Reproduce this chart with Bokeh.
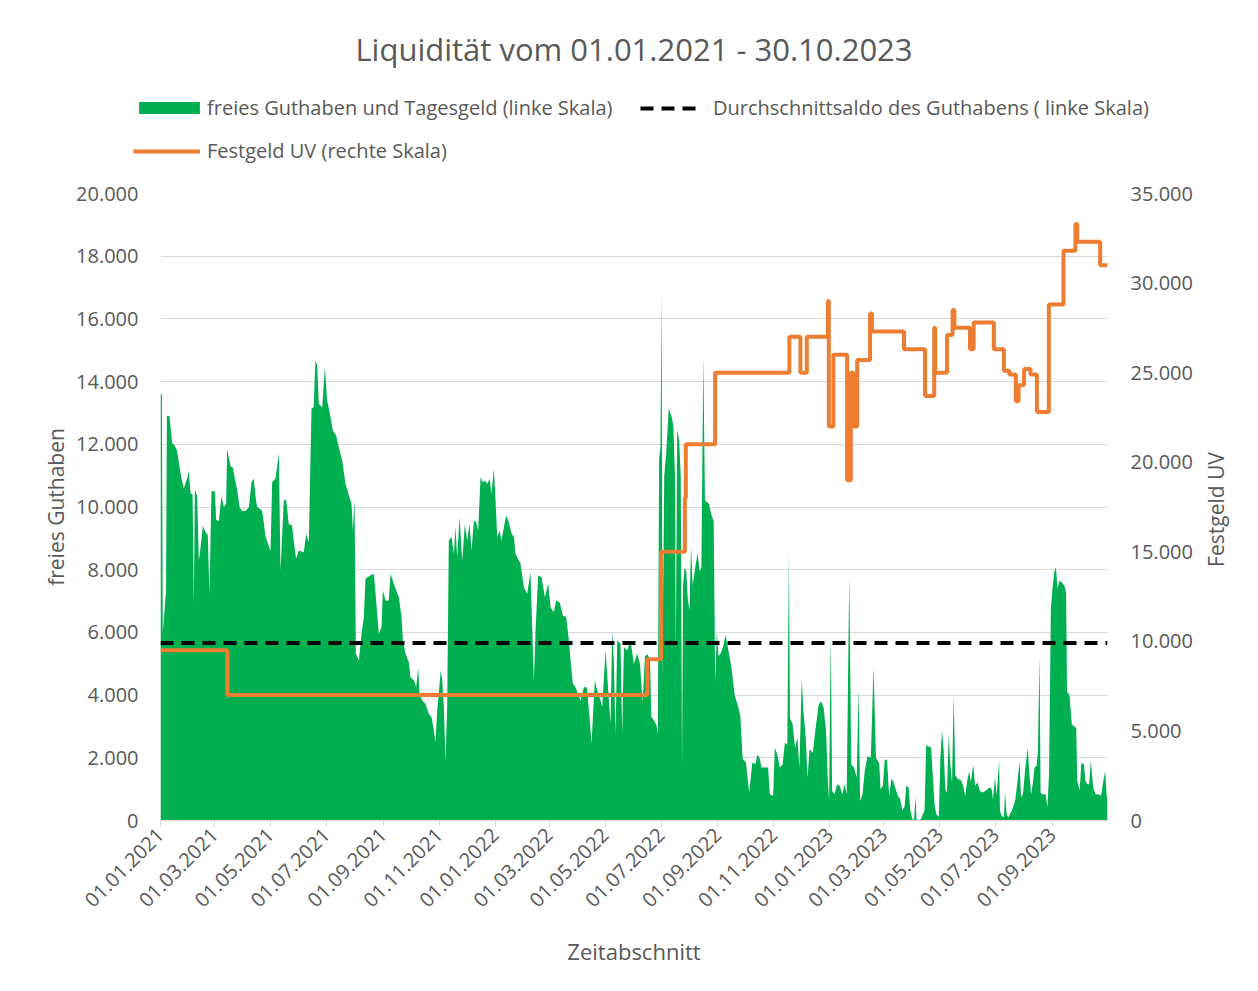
from math import pi
import pandas as pd
from bokeh.plotting import figure
from bokeh.layouts import column, row
from bokeh.models import (ColumnDataSource, Range1d, LinearAxis, FixedTicker,
                          DatetimeTickFormatter, Legend, LegendItem, Label)
from bokeh.embed import file_html
from bokeh.resources import INLINE

# ---------------- data ----------------
START = pd.Timestamp("2021-01-01")
ANZAHL_TAGE = 1033  # 01.01.2021 .. 30.10.2023

titel = "Liquidität vom 01.01.2021 - 30.10.2023"
name_guthaben = "freies Guthaben und Tagesgeld (linke Skala)"
name_schnitt = "Durchschnittsaldo des Guthabens ( linke Skala)"
name_festgeld = "Festgeld UV (rechte Skala)"
achse_links = "freies Guthaben"
achse_rechts = "Festgeld UV"
achse_x = "Zeitabschnitt"

# (Tag seit 01.01.2021, freies Guthaben in EUR)
guthaben_2021 = [
    (0, 13600), (1.5, 13600), (2.5, 6000), (6, 7300), (7, 12900), (9.8, 12900), (12.7, 12050),
    (15.6, 11950), (18, 11800), (20.7, 11300), (22.9, 10900), (25.5, 10600), (29, 10900),
    (30.9, 11150), (32.7, 10450), (35, 10400), (36.4, 6950), (37.5, 10550), (40, 10350),
    (41.8, 8300), (43.5, 8650), (46.2, 9400), (49, 9200), (51.6, 9100), (53.4, 7250),
    (55.6, 10500), (59.3, 10500), (60.7, 9600), (63.6, 9550), (66.5, 10350), (69, 10000),
    (71.6, 10100), (72.7, 11850), (76.4, 11300), (79, 11250), (81, 10900), (83.6, 10550),
    (86.2, 10000), (89, 9870), (92.7, 9870), (96.4, 10000), (99.3, 10800), (101.8, 10900),
    (103.6, 10350), (105.4, 10000), (108, 9950), (110.9, 9870), (112.7, 9500), (114.5, 9070),
    (117.5, 8800), (120, 8600), (121.8, 10800), (125.4, 10900), (129.1, 11700), (130.9, 7970),
    (134.5, 10200), (137, 10250), (139.9, 9460), (143.5, 9410), (145.3, 8930), (147.9, 8350),
    (150.9, 8610), (156.3, 8560), (158.9, 9140), (161.8, 8880), (164.7, 13130), (167, 13180),
    (169, 14670), (170.9, 14510), (172.7, 13290), (176.4, 13180), (179.3, 14460), (181.8, 13400),
    (184.4, 13030), (188, 12440), (191.6, 12280), (195.3, 11800), (198.2, 11480), (201.8, 10740),
    (205.5, 10370), (208.4, 10100), (209.8, 9250), (211.7, 10220), (213.1, 5320), (216.4, 5100),
    (219.3, 5950), (221.8, 6480), (223.6, 7710), (229.1, 7820), (232.7, 7870), (234.6, 7230),
    (238.2, 5950), (241.1, 6170), (242.5, 7340), (245.5, 7020), (249, 7020), (250.9, 7870),
    (254.5, 7550), (256.4, 7390), (260, 7130), (262.9, 6490), (264.4, 5750), (267.3, 5320),
    (270.9, 5050), (272.7, 4570), (276.4, 4470), (278.9, 4250), (281.1, 4890), (282.5, 4040),
    (285.5, 3830), (289.1, 3720), (292.7, 3400), (295.6, 3300), (298.2, 2870), (300, 2500),
    (301.8, 3500), (303.6, 4040), (305.5, 4780), (307.3, 4470), (309.1, 3610), (310.9, 1910),
    (312.7, 3610), (314.5, 8930), (317.5, 9040), (320, 8500), (321.8, 9360), (323.6, 8400),
    (326.2, 9680), (329.1, 8290), (332, 9460), (334.5, 8930), (337.1, 9460), (339.3, 8610),
    (341.8, 9570), (344.4, 9510), (346.5, 9250), (349.1, 10950), (351.6, 10790), (354.5, 10840),
    (356.4, 10730), (358.9, 10900), (361.1, 10420), (363.6, 11220),
]
guthaben_2022 = [
    (365.5, 10200), (367.3, 9040), (369.8, 9250), (372, 8930), (374.5, 9360), (377.1, 9730),
    (380, 9510), (383, 9150), (385.5, 9040), (387.3, 8500), (392.7, 8190), (396.4, 7440),
    (400, 7230), (403.6, 7920), (407.3, 4460), (409.1, 6060), (412, 7820), (415.6, 7760),
    (419.3, 7120), (422.9, 7550), (425.5, 6800), (429.1, 6640), (431.6, 7020), (435.3, 6960),
    (438.9, 6540), (442.5, 6490), (445.5, 5740), (447.3, 5100), (449.8, 4360), (452.7, 4250),
    (458.2, 3830), (461.8, 4250), (465, 4250), (468, 3300), (470.2, 2450), (472, 3510),
    (473.8, 4460), (476.4, 4150), (480, 3830), (481.8, 3620), (485.5, 5420), (488.4, 4150),
    (490.9, 3080), (492.7, 6060), (494.5, 5100), (496.4, 2760), (498.2, 5740), (501.8, 5640),
    (503.6, 2760), (505.5, 5530), (509.1, 5420), (512.7, 5740), (516.4, 5000), (520, 5320),
    (523, 5000), (526, 3770), (528.4, 5240), (531.2, 5300), (534, 5130), (535.4, 3320),
    (538.3, 3200), (541, 3040), (542.5, 2760), (543.9, 11570), (545.3, 11900), (546.7, 16900),
    (547.4, 4340), (549.5, 11000), (551.6, 11700), (554.4, 13150), (557.6, 12870), (559.4, 12590),
    (561.1, 11120), (562.2, 5360), (563.6, 12470), (565.7, 12140), (567.5, 11000), (568.9, 1740),
    (570, 7500), (571.7, 8070), (573.5, 7950), (575.2, 7050), (577, 6710), (578.7, 8750),
    (580.5, 7500), (583.3, 8070), (585.8, 8520), (588.2, 7950), (590, 8070), (592.1, 14790),
    (593.9, 10210), (598.1, 10100), (600.9, 9760), (603.4, 9540), (605.1, 4450), (606.9, 6030),
    (608.7, 5240), (611.5, 5360), (614, 5580), (616.4, 5920), (618.5, 5580), (622.7, 4900),
    (626.3, 4000), (629.8, 3660), (632.6, 3320), (635, 1970), (638.6, 1850), (642.1, 890),
    (645.6, 1850), (649.1, 1800), (651, 2100), (653.6, 2000), (655.4, 1690), (662.8, 1690),
    (664.6, 840), (668.3, 790), (670.1, 2320), (672.7, 2110), (675.6, 1690), (678.6, 1790),
    (681.1, 2480), (683.7, 2420), (685.5, 8500), (686.6, 3270), (689.6, 3060), (692.2, 2320),
    (694.7, 2640), (696.9, 1690), (699.5, 4540), (701.3, 3480), (703.9, 2640), (705.8, 1370),
    (708, 2270), (711.6, 2160), (714.2, 2850), (717.9, 3690), (720.5, 3800), (723.4, 3590),
    (726, 2850), (727.8, 1370), (729.3, 630),
]
guthaben_2023 = [
    (731.1, 5910), (732.6, 950), (735.2, 840), (738.1, 1160), (741, 1100), (743.6, 840),
    (746.2, 1160), (748.5, 840), (751.3, 7790), (753.5, 1790), (756.5, 1690), (759.4, 1370),
    (761.6, 4220), (763.1, 630), (765.7, 840), (768.2, 1580), (771.2, 2050), (774.8, 2000),
    (777.8, 4900), (780.4, 2000), (784, 1830), (785.4, 1000), (788, 1110), (790, 1940),
    (792.5, 1940), (794.8, 780), (797.3, 1330), (799.8, 1220), (802, 1000), (804.5, 780),
    (807, 670), (809.2, 330), (811.7, 440), (813.5, 1110), (816.1, 1060), (817.9, 330),
    (820, 60), (821.9, 0), (823.7, 780), (824.7, 0), (828, 0), (829.8, 60), (833.4, 330),
    (835.2, 2390), (840.6, 2330), (842.4, 1440), (844.2, 560), (846, 220), (849, 110),
    (850.7, 2000), (852.5, 2890), (854.3, 2220), (856.1, 1000), (857.9, 890), (859.8, 2780),
    (861.2, 1890), (863.4, 1220), (865.2, 4000), (867, 1440), (869.5, 1330), (873.1, 1280),
    (875.6, 1110), (877.8, 780), (880.3, 1330), (882.1, 1560), (883.9, 1220), (886.5, 1780),
    (888.6, 1110), (891.2, 1220), (893.7, 940), (896.6, 890), (899.5, 940), (902, 1000),
    (904.5, 1060), (906.7, 1000), (908.1, 670), (910.3, 1390), (912, 790), (914.8, 1900),
    (915.7, 310), (917.5, 150), (920, 100), (921.2, 890), (923, 200), (924.9, 100),
    (928.6, 310), (932.3, 630), (934.9, 1260), (937.1, 1900), (938.6, 740), (940.8, 840),
    (943.4, 1690), (946, 2320), (947.8, 1470), (949.7, 840), (951.9, 1260), (953.4, 1690),
    (955.6, 1740), (957.1, 2210), (958.9, 5280), (960, 890), (961.9, 840), (965.5, 840),
    (967.5, 420), (969.3, 1580), (971.2, 6750), (973, 7390), (974.9, 7920), (976.7, 8070),
    (978.6, 7390), (980.4, 7650), (983, 7600), (986, 7490), (987.8, 7280), (988.9, 4110),
    (991.5, 4000), (994.1, 3060), (997, 3000), (998.9, 2950), (1000, 1260), (1002.6, 950),
    (1004.5, 1840), (1007.4, 1790), (1008.9, 1260), (1011.1, 1160), (1013, 1160), (1014.8, 1900),
    (1017.4, 1050), (1020, 840), (1023, 840), (1025.9, 790), (1028.5, 1260), (1030.4, 1580),
    (1032.2, 740), (1033, 740),
]

durchschnittsaldo = 5660

# Festgeld UV (rechte Skala): Tag der Aenderung und neuer Stand
festgeld_tage = [0, 73, 531, 546, 572, 573, 605, 686, 698, 705, 728, 729, 734, 749, 753,
                 756, 760, 774, 776, 811, 834, 844, 845, 858, 864, 866, 883, 887, 909, 920,
                 926, 933, 936, 942, 949, 956, 969, 985, 998, 1000, 1025, 1033]
festgeld_werte = [9500, 7000, 9000, 15000, 18000, 21000, 25000, 27000, 25000, 27000, 29000,
                  22000, 26000, 19000, 25000, 22000, 25700, 28300, 27300, 26300, 23700, 27500,
                  25000, 27100, 28500, 27500, 26300, 27800, 26300, 25100, 24900, 23400, 24300,
                  25200, 24900, 22800, 28800, 31800, 33300, 32300, 31000, 31000]

x_tick_labels = ["01.01.2021", "01.03.2021", "01.05.2021", "01.07.2021", "01.09.2021",
                 "01.11.2021", "01.01.2022", "01.03.2022", "01.05.2022", "01.07.2022",
                 "01.09.2022", "01.11.2022", "01.01.2023", "01.03.2023", "01.05.2023",
                 "01.07.2023", "01.09.2023"]
links_ticks = [0, 2000, 4000, 6000, 8000, 10000, 12000, 14000, 16000, 18000, 20000]
links_labels = ["0", "2.000", "4.000", "6.000", "8.000", "10.000", "12.000", "14.000",
                "16.000", "18.000", "20.000"]
rechts_ticks = [0, 5000, 10000, 15000, 20000, 25000, 30000, 35000]
rechts_labels = ["0", "5.000", "10.000", "15.000", "20.000", "25.000", "30.000", "35.000"]

# ---------------- styling ----------------
FONT = "Open Sans"
GRAU = "#595959"
GRUEN = "#00B050"
ORANGE = "#ED7D31"
W = 1242
H_KOPF = 175
H_PLOT = 800
W_STREIFEN = 42


def to_dt(tage):
    return START + pd.to_timedelta(tage, unit="D")


def leer_figur(w, h):
    f = figure(width=w, height=h, output_backend="svg", toolbar_location=None,
               x_range=Range1d(0, w), y_range=Range1d(0, h),
               x_axis_location=None, y_axis_location=None,
               min_border_left=0, min_border_right=0, min_border_top=0, min_border_bottom=0)
    f.frame_align = False
    f.title.text = ""
    f.outline_line_color = None
    f.grid.visible = False
    f.background_fill_color = "white"
    f.border_fill_color = "white"
    return f


guthaben = guthaben_2021 + guthaben_2022 + guthaben_2023
g_tage = [t for t, _ in guthaben]
g_werte = [w for _, w in guthaben]
ENDE = START + pd.Timedelta(days=ANZAHL_TAGE)

# ---------------- main chart ----------------
p = figure(width=W - W_STREIFEN, height=H_PLOT, output_backend="svg", toolbar_location=None,
           x_axis_type="datetime",
           x_range=Range1d(START, ENDE), y_range=Range1d(0, 20000),
           min_border_left=160, min_border_right=1200 - 1107, min_border_top=18,
           min_border_bottom=155)
p.frame_align = False
p.title.text = ""
p.outline_line_color = None
p.background_fill_color = "white"
p.border_fill_color = "white"

p.extra_y_ranges = {"rechts": Range1d(0, 35000)}

p.xgrid.visible = False
p.ygrid.ticker = FixedTicker(ticks=links_ticks)
p.ygrid.grid_line_color = "#D9D9D9"
p.ygrid.grid_line_width = 1

epoch = pd.Timestamp("1970-01-01")
x_ticks = [(pd.to_datetime(s, format="%d.%m.%Y") - epoch) // pd.Timedelta(milliseconds=1)
           for s in x_tick_labels]
xa = p.xaxis[0]
xa.ticker = FixedTicker(ticks=x_ticks)
fmt = "%d.%m.%Y"
xa.formatter = DatetimeTickFormatter(milliseconds=fmt, seconds=fmt, minsec=fmt, minutes=fmt,
                                     hourmin=fmt, hours=fmt, days=fmt, months=fmt, years=fmt)
xa.major_label_orientation = pi / 4
xa.major_label_text_font = FONT
xa.major_label_text_font_size = "20px"
xa.major_label_text_color = GRAU
xa.axis_line_color = "#D9D9D9"
xa.major_tick_line_color = "#D9D9D9"
xa.major_tick_in = 0
xa.major_tick_out = 6
xa.minor_tick_line_color = None
xa.major_label_standoff = 5
xa.axis_label = achse_x
xa.axis_label_text_font = FONT
xa.axis_label_text_font_size = "22px"
xa.axis_label_text_font_style = "normal"
xa.axis_label_text_color = GRAU
xa.axis_label_standoff = 19

ya = p.yaxis[0]
ya.ticker = FixedTicker(ticks=links_ticks)
ya.major_label_overrides = dict(zip(links_ticks, links_labels))
ya.axis_line_color = None
ya.major_tick_line_color = None
ya.minor_tick_line_color = None
ya.major_label_standoff = 16
ya.major_label_text_font = FONT
ya.major_label_text_font_size = "20px"
ya.major_label_text_color = GRAU
ya.axis_label = achse_links
ya.axis_label_text_font = FONT
ya.axis_label_text_font_size = "21px"
ya.axis_label_text_font_style = "normal"
ya.axis_label_text_color = GRAU
ya.axis_label_standoff = 3

ra = LinearAxis(y_range_name="rechts")
ra.ticker = FixedTicker(ticks=rechts_ticks)
ra.major_label_overrides = dict(zip(rechts_ticks, rechts_labels))
ra.axis_line_color = None
ra.major_tick_line_color = None
ra.minor_tick_line_color = None
ra.major_label_standoff = 17
ra.major_label_text_font = FONT
ra.major_label_text_font_size = "20px"
ra.major_label_text_color = GRAU
p.add_layout(ra, "right")

gruen_stil = dict(fill_color=GRUEN)
schnitt_stil = dict(line_color="black", line_width=4, line_dash="13 8")
festgeld_stil = dict(line_color=ORANGE, line_width=4)

src_g = ColumnDataSource(dict(x=to_dt(g_tage), y=g_werte))
p.varea(x="x", y1=0, y2="y", source=src_g, **gruen_stil)
p.line(x=[START, ENDE], y=[durchschnittsaldo, durchschnittsaldo], **schnitt_stil)
p.step(x=to_dt(festgeld_tage), y=festgeld_werte, mode="after", y_range_name="rechts",
       **festgeld_stil)

# ---------------- right strip: title of the right axis (reads bottom to top) ----------------
r = leer_figur(W_STREIFEN, H_PLOT)
r.add_layout(Label(x=1215 - (W - W_STREIFEN), y=H_PLOT - (509 - H_KOPF), text=achse_rechts,
                   angle=pi / 2, text_align="center", text_baseline="middle", text_font=FONT,
                   text_font_size="21px", text_color=GRAU))

# ---------------- header (title + legend) ----------------
k = leer_figur(W, H_KOPF)
lg_g = k.varea(x=[-50, -40], y1=[0, 0], y2=[1, 1], **gruen_stil)
lg_s = k.line(x=[-50, -40], y=[-5, -5], **schnitt_stil)
lg_f = k.line(x=[-50, -40], y=[-5, -5], **festgeld_stil)

leg_common = dict(label_text_font=FONT, label_text_font_size="20px", label_text_color=GRAU,
                  border_line_color=None, background_fill_alpha=0, padding=0, margin=0,
                  label_height=20)
legG = Legend(items=[LegendItem(label=name_guthaben, renderers=[lg_g])],
              location=(131, 54), glyph_width=76, glyph_height=15, label_standoff=0,
              **leg_common)
legF = Legend(items=[LegendItem(label=name_festgeld, renderers=[lg_f])],
              location=(133, 11), glyph_width=67, glyph_height=12, label_standoff=7,
              **leg_common)
legS = Legend(items=[LegendItem(label=name_schnitt, renderers=[lg_s])],
              location=(640, 54), glyph_width=60, glyph_height=12, label_standoff=13,
              **leg_common)
k.add_layout(legG)
k.add_layout(legF)
k.add_layout(legS)

k.add_layout(Label(x=633.5, y=H_KOPF - 48, text=titel, text_align="center",
                   text_baseline="middle", text_font=FONT, text_font_size="31px",
                   text_color=GRAU))

layout = column(k, row(p, r, spacing=0), spacing=0)
open("out.html", "w").write(file_html(layout, INLINE))
